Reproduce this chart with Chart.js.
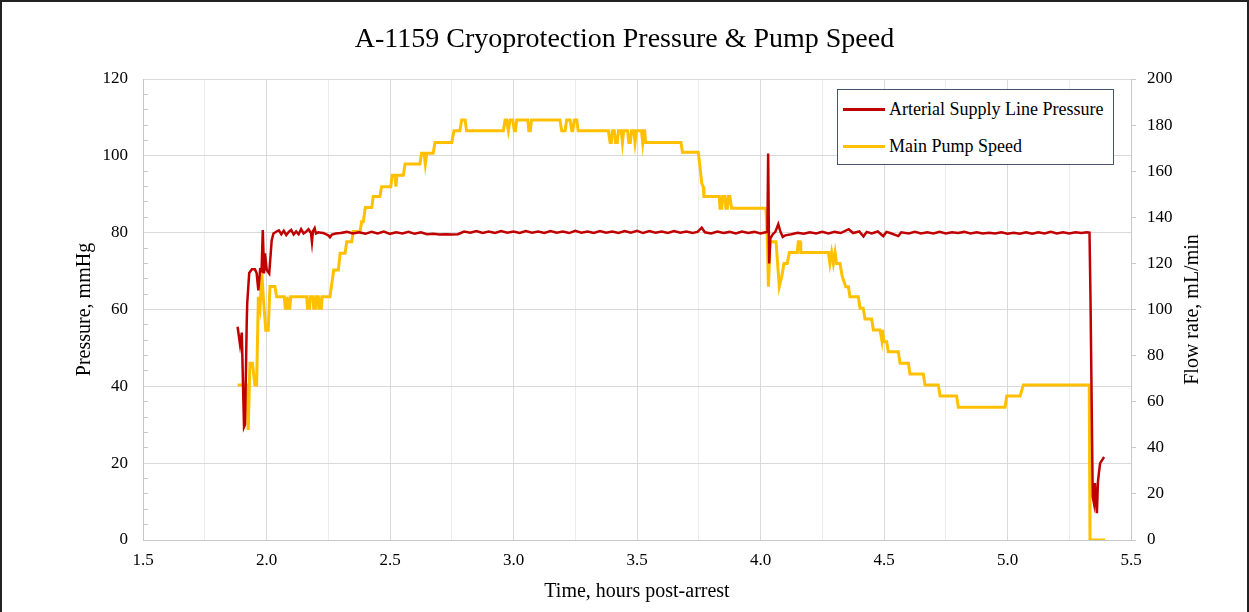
<!DOCTYPE html>
<html lang="en">
<head>
<meta charset="UTF-8">
<title>A-1159 Cryoprotection Pressure &amp; Pump Speed</title>
<script src="https://cdn.jsdelivr.net/npm/chart.js"></script>
<style>
    body { margin: 0; background: #fff; }
    .wrap { position: relative; width: 1249px; height: 612px; }
    .frame {
        position: absolute; left: 0; top: 0; width: 1249px; height: 612px;
        box-sizing: border-box; border: 2px solid #222; border-bottom: none;
        pointer-events: none;
    }
    .legend {
        position: absolute; left: 837px; top: 89px; width: 277px; height: 76px;
        box-sizing: border-box; border: 1px solid #44546a; background: #fff;
        font-family: 'Liberation Serif', serif; font-size: 18px; color: #000;
    }
    .item { position: absolute; left: 5px; height: 22px; display: flex; align-items: center; white-space: nowrap; }
    .swatch { width: 42px; height: 3px; margin-right: 4px; }
</style>
</head>
<body>
<div class="wrap">
    <canvas id="chart" width="1249" height="612"></canvas>
    <div class="legend">
        <div class="item" style="top: 8px"><span class="swatch" style="background:#C00000"></span>Arterial Supply Line Pressure</div>
        <div class="item" style="top: 45px"><span class="swatch" style="background:#FFC000"></span>Main Pump Speed</div>
    </div>
    <div class="frame"></div>
</div>

<script>
    // [hours post-arrest, mmHg]
    const pressure = [
        [1.883, 55.5], [1.893, 50.8], [1.900, 54.0], [1.905, 40.0], [1.909, 29.4], [1.913, 30.0],
        [1.920, 56.8], [1.922, 61.7], [1.930, 69.5], [1.941, 70.5], [1.953, 70.5], [1.960, 69.5],
        [1.967, 65.0], [1.974, 70.3], [1.980, 70.0], [1.985, 80.7], [1.990, 69.4], [1.994, 74.6],
        [2.001, 70.3], [2.011, 69.4], [2.021, 78.0], [2.028, 79.8], [2.041, 80.3],
        [2.050, 80.6], [2.060, 79.6], [2.070, 80.5], [2.080, 79.4], [2.090, 80.2], [2.100, 80.7],
        [2.110, 79.5], [2.120, 80.3], [2.130, 79.6], [2.140, 80.9], [2.150, 79.8], [2.160, 80.2],
        [2.170, 80.9], [2.180, 79.9], [2.184, 77.6], [2.188, 80.4], [2.195, 81.2], [2.200, 79.8],
        [2.210, 80.1], [2.220, 80.0], [2.230, 79.9], [2.240, 79.6], [2.250, 79.3], [2.257, 78.8],
        [2.265, 79.5], [2.280, 79.8],
        [2.300, 79.9], [2.325, 80.2], [2.350, 79.8], [2.375, 80.1], [2.400, 79.7], [2.425, 80.2],
        [2.450, 79.8], [2.475, 80.3], [2.500, 79.7], [2.525, 80.1], [2.550, 79.8], [2.575, 80.2],
        [2.600, 79.7], [2.625, 80.1], [2.650, 79.6], [2.675, 79.7], [2.700, 79.5], [2.725, 79.6],
        [2.750, 79.5], [2.775, 79.6], [2.800, 80.3], [2.825, 80.0], [2.850, 80.4], [2.875, 79.9],
        [2.900, 80.3], [2.925, 79.9], [2.950, 80.4], [2.975, 80.0], [3.000, 80.3], [3.025, 79.9],
        [3.050, 80.4], [3.075, 80.0], [3.100, 80.3], [3.125, 79.9], [3.150, 80.4], [3.175, 80.0],
        [3.200, 80.3], [3.225, 79.9], [3.250, 80.5], [3.275, 80.0], [3.300, 80.3], [3.325, 79.9],
        [3.350, 80.4], [3.375, 80.0], [3.400, 80.3], [3.425, 79.9], [3.450, 80.4], [3.475, 80.0],
        [3.500, 80.5], [3.525, 79.9], [3.550, 80.4], [3.575, 80.0], [3.600, 80.3], [3.625, 79.9],
        [3.650, 80.4], [3.675, 80.0], [3.700, 80.3], [3.725, 79.9], [3.745, 80.2], [3.762, 81.3],
        [3.775, 80.1], [3.800, 79.8], [3.825, 80.3], [3.850, 79.9], [3.875, 80.2], [3.900, 79.8],
        [3.925, 80.3], [3.950, 79.9], [3.975, 80.2], [4.000, 79.8], [4.020, 80.1], [4.028, 80.2],
        [4.031, 100.6], [4.035, 72.0], [4.040, 78.5], [4.050, 79.6], [4.060, 80.2], [4.072, 82.2],
        [4.080, 80.4], [4.090, 78.9], [4.100, 79.3], [4.125, 79.6], [4.150, 80.0], [4.175, 79.7],
        [4.200, 80.1], [4.225, 79.8], [4.250, 80.2], [4.275, 79.8], [4.300, 80.2], [4.325, 79.9],
        [4.357, 80.9], [4.375, 79.9], [4.400, 80.3], [4.417, 79.0], [4.430, 80.2], [4.450, 79.8],
        [4.475, 80.3], [4.497, 79.1], [4.510, 80.2], [4.525, 79.9], [4.558, 79.1], [4.570, 80.1],
        [4.600, 79.8], [4.625, 80.2], [4.650, 79.8], [4.675, 80.1], [4.700, 79.8], [4.725, 80.2],
        [4.750, 79.8], [4.775, 80.1], [4.800, 79.9], [4.825, 80.2], [4.850, 79.8], [4.875, 80.1],
        [4.900, 79.8], [4.925, 80.0], [4.950, 79.8], [4.975, 80.1], [5.000, 79.7], [5.025, 80.0],
        [5.050, 79.7], [5.075, 80.1], [5.100, 79.7], [5.125, 80.1], [5.150, 79.8], [5.175, 80.2],
        [5.200, 79.8], [5.225, 80.1], [5.250, 79.8], [5.275, 80.1], [5.300, 79.9], [5.320, 80.1],
        [5.332, 80.0], [5.336, 63.0], [5.345, 11.3], [5.350, 9.6], [5.354, 14.8], [5.358, 10.0],
        [5.362, 7.0], [5.366, 15.0], [5.370, 17.4], [5.375, 20.0], [5.385, 21.0], [5.391, 21.6]
    ];

    // [hours post-arrest, mL/min]
    const pumpSpeed = [
        [1.883, 67.2], [1.920, 67.2], [1.926, 47.7], [1.933, 76.7], [1.943, 76.7], [1.953, 67.2],
        [1.960, 67.2], [1.967, 105.5], [1.974, 101.0], [1.981, 115.7], [1.987, 105.5], [1.997, 91.0],
        [2.007, 91.0], [2.014, 110.0], [2.034, 110.0], [2.041, 105.5], [2.072, 105.5], [2.076, 100.5],
        [2.080, 100.5], [2.084, 105.5], [2.088, 100.5], [2.094, 100.5], [2.098, 105.5], [2.163, 105.5],
        [2.166, 100.5], [2.174, 100.5], [2.177, 105.5], [2.188, 105.5], [2.191, 100.5], [2.198, 100.5],
        [2.201, 105.5], [2.209, 105.5], [2.212, 100.5], [2.222, 100.5], [2.225, 105.5], [2.257, 105.5],
        [2.272, 117.1], [2.291, 117.1], [2.298, 124.4], [2.318, 124.4], [2.325, 129.4], [2.345, 129.4],
        [2.351, 133.8], [2.379, 133.8], [2.385, 138.1], [2.392, 138.1], [2.400, 144.2], [2.426, 144.2],
        [2.432, 149.0], [2.459, 149.0], [2.466, 153.3], [2.503, 153.3], [2.509, 158.2], [2.520, 158.2],
        [2.524, 153.3], [2.528, 158.2], [2.554, 158.2], [2.561, 163.1], [2.621, 163.1], [2.628, 167.8],
        [2.638, 167.8], [2.643, 163.1], [2.649, 167.8], [2.675, 167.8], [2.682, 172.5], [2.750, 172.5],
        [2.759, 177.6], [2.783, 177.6], [2.790, 182.2], [2.804, 182.2], [2.810, 177.6], [2.959, 177.6],
        [2.966, 182.2], [2.972, 182.2], [2.979, 177.6], [2.986, 182.2], [2.997, 182.2], [3.003, 177.6],
        [3.008, 177.6], [3.013, 182.2], [3.058, 182.2], [3.062, 177.6], [3.068, 177.6], [3.073, 182.2],
        [3.188, 182.2], [3.195, 177.6], [3.209, 177.6], [3.215, 182.2], [3.229, 182.2], [3.236, 177.6],
        [3.240, 177.6], [3.246, 182.2], [3.256, 182.2], [3.262, 177.6], [3.384, 177.6], [3.391, 172.5],
        [3.396, 172.5], [3.400, 177.6], [3.408, 177.6], [3.413, 172.5], [3.420, 172.5], [3.425, 177.6],
        [3.436, 177.6], [3.441, 172.5], [3.446, 177.6], [3.462, 177.6], [3.467, 172.5], [3.473, 172.5],
        [3.478, 177.6], [3.487, 177.6], [3.492, 172.5], [3.498, 177.6], [3.518, 177.6], [3.523, 172.5],
        [3.528, 177.6], [3.531, 177.6], [3.535, 172.5], [3.678, 172.5], [3.684, 168.2], [3.748, 168.2],
        [3.755, 162.0], [3.762, 154.7], [3.768, 153.3], [3.771, 149.0], [3.833, 149.0], [3.836, 143.9],
        [3.843, 143.9], [3.847, 149.0], [3.856, 149.0], [3.860, 143.9], [3.866, 143.9], [3.870, 149.0],
        [3.876, 149.0], [3.883, 143.9], [4.022, 143.9], [4.028, 130.0], [4.032, 109.9], [4.039, 129.4],
        [4.063, 129.4], [4.076, 109.9], [4.086, 114.3], [4.095, 120.0], [4.108, 120.0], [4.117, 124.7],
        [4.149, 124.7], [4.153, 129.4], [4.160, 129.4], [4.163, 124.7], [4.275, 124.7], [4.281, 120.0],
        [4.288, 124.7], [4.295, 120.0], [4.302, 124.7], [4.308, 120.0], [4.322, 120.0], [4.331, 114.3],
        [4.345, 109.9], [4.356, 109.9], [4.362, 105.5], [4.396, 105.5], [4.403, 100.5], [4.416, 100.5],
        [4.423, 95.9], [4.450, 95.9], [4.457, 91.1], [4.484, 91.1], [4.491, 86.8], [4.494, 91.1],
        [4.500, 86.0], [4.511, 86.0], [4.517, 81.7], [4.558, 81.7], [4.565, 76.7], [4.599, 76.7],
        [4.605, 72.0], [4.659, 72.0], [4.666, 67.2], [4.720, 67.2], [4.727, 62.5], [4.794, 62.5],
        [4.801, 57.6], [4.990, 57.6], [4.997, 62.5], [5.051, 62.5], [5.064, 67.2], [5.331, 67.2],
        [5.334, 0], [5.395, 0]
    ];

    const chartTitle = 'A-1159 Cryoprotection Pressure & Pump Speed';
    const xTitle = 'Time, hours post-arrest';
    const yTitle = 'Pressure, mmHg';
    const y1Title = 'Flow rate, mL/min';

    const serif = 'Liberation Serif';
    const tickFont = { family: serif, size: 17 };
    const titleFont = { family: serif, size: 20 };

    const isHalf = v => Math.abs(v * 2 - Math.round(v * 2)) < 1e-6;

    // Chart.js turns a right-hand axis title the other way; the original reads bottom-to-top
    const rightAxisTitle = {
        id: 'rightAxisTitle',
        afterDraw(chart) {
            const s = chart.scales.y1;
            const ctx = chart.ctx;
            ctx.save();
            ctx.translate(s.right - 56, (s.top + s.bottom) / 2);
            ctx.rotate(-Math.PI / 2);
            ctx.font = `${titleFont.size}px "${serif}"`;
            ctx.fillStyle = '#000';
            ctx.textAlign = 'center';
            ctx.textBaseline = 'middle';
            ctx.fillText(y1Title, 0, 0);
            ctx.restore();
        }
    };

    new Chart(document.getElementById('chart').getContext('2d'), {
        type: 'line',
        data: {
            datasets: [{
                label: 'Arterial Supply Line Pressure',
                data: pressure.map(([x, y]) => ({ x, y })),
                borderColor: '#C00000',
                borderWidth: 2.5,
                pointRadius: 0,
                tension: 0,
                yAxisID: 'y'
            }, {
                label: 'Main Pump Speed',
                data: pumpSpeed.map(([x, y]) => ({ x, y })),
                borderColor: '#FFC000',
                borderWidth: 3,
                pointRadius: 0,
                tension: 0,
                yAxisID: 'y1'
            }]
        },
        plugins: [rightAxisTitle],
        options: {
            responsive: false,
            animation: false,
            layout: { padding: 0 },
            plugins: {
                legend: { display: false },
                tooltip: { enabled: false },
                title: {
                    display: true,
                    text: chartTitle,
                    color: '#000',
                    font: { family: serif, size: 28, weight: 'normal' },
                    padding: { top: 23, bottom: 22.4 }
                }
            },
            scales: {
                x: {
                    type: 'linear',
                    min: 1.5,
                    max: 5.5,
                    afterFit: s => { s.height = 72; },
                    ticks: {
                        stepSize: 0.25,
                        autoSkip: false,
                        maxRotation: 0,
                        color: '#000',
                        font: tickFont,
                        padding: 10,
                        callback: v => isHalf(v) ? v.toFixed(1) : ''
                    },
                    grid: {
                        drawTicks: false,
                        color: c => isHalf(c.tick.value) ? '#d9d9d9' : '#ececec'
                    },
                    border: { color: '#c8c8c8' },
                    title: { display: true, text: xTitle, color: '#000', font: titleFont, padding: { top: 0, bottom: 8 } }
                },
                y: {
                    position: 'left',
                    min: 0,
                    max: 120,
                    afterFit: s => { s.width = 143; },
                    ticks: {
                        stepSize: 4,
                        autoSkip: false,
                        color: '#000',
                        font: tickFont,
                        padding: 20,
                        callback: v => v % 20 === 0 ? v : ''
                    },
                    grid: {
                        tickLength: -5,
                        color: c => c.tick.value % 20 === 0 ? '#d9d9d9' : 'rgba(0,0,0,0)',
                        tickColor: c => c.tick.value % 20 === 0 ? 'rgba(0,0,0,0)' : '#c8c8c8'
                    },
                    border: { color: '#c8c8c8' },
                    title: { display: true, text: yTitle, color: '#000', font: titleFont, padding: { top: 73, bottom: 0 } }
                },
                y1: {
                    position: 'right',
                    min: 0,
                    max: 200,
                    afterFit: s => { s.width = 118; },
                    ticks: {
                        stepSize: 20,
                        color: '#000',
                        font: tickFont,
                        padding: 11
                    },
                    grid: {
                        drawOnChartArea: false,
                        tickLength: 5,
                        tickColor: '#c8c8c8'
                    },
                    border: { color: '#c8c8c8' },
                    title: { display: false }
                }
            }
        }
    });
</script>
</body>
</html>
